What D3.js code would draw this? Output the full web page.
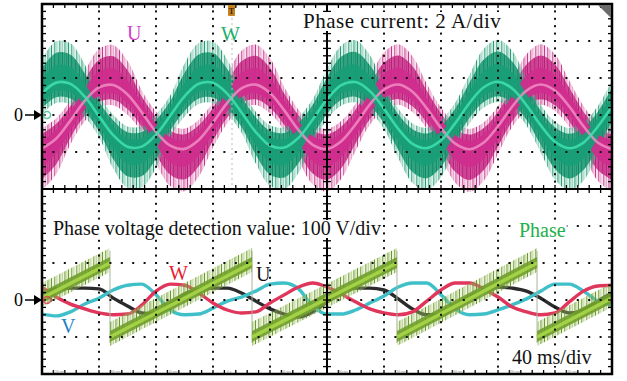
<!DOCTYPE html>
<html>
<head>
<meta charset="utf-8">
<script src="https://cdn.jsdelivr.net/npm/d3@7"></script>
<style>
  body { margin: 0; background: #fff; }
  svg { display: block; }
  text { font-family: "Liberation Serif", "Times New Roman", serif; }
</style>
</head>
<body>
<svg id="scope" width="627" height="381"></svg>
<script>
// sample times (ms) across the 10 x 40 ms screen
const timeMs = d3.range(0, 401, 10);

// phase currents (A)
const currentU = [-1.81, -1.27, -0.29, 0.76, 1.49, 1.62, 1.11, 0.14, -0.91, -1.66, -1.83, -1.35, -0.40, 0.66, 1.44, 1.64, 1.19, 0.25, -0.81, -1.61, -1.84, -1.42, -0.51, 0.56, 1.38, 1.65, 1.26, 0.36, -0.71, -1.55, -1.85, -1.49, -0.61, 0.46, 1.32, 1.65, 1.32, 0.46, -0.61, -1.49, -1.85];
const currentW = [1.17, 1.75, 1.68, 0.99, -0.06, -1.09, -1.72, -1.71, -1.07, -0.04, 1.01, 1.69, 1.74, 1.15, 0.14, -0.92, -1.65, -1.76, -1.23, -0.24, 0.84, 1.61, 1.78, 1.30, 0.34, -0.75, -1.56, -1.79, -1.37, -0.44, 0.65, 1.50, 1.80, 1.43, 0.53, -0.56, -1.45, -1.80, -1.49, -0.63, 0.46];

// phase voltage detection values (V)
const voltU = [19, 30, 32, 32, 30, 5, -16, -35, -38, -14, 16, 27, 32, 32, 19, -3, -24, -38, -46, -32, -5, 22, 32, 32, 27, 3, -24, -40, -40, -16, 8, 24, 35, 32, 24, 5, -19, -35, -27, -3, 19];
const voltV = [-38, -43, -32, -11, 5, 27, 40, 43, 14, -27, -40, -38, -22, -3, 8, 24, 43, 46, 30, -16, -38, -38, -27, -8, 11, 35, 46, 46, 14, -24, -40, -38, -27, -13, 3, 24, 43, 43, 24, -3, -13];
const voltW = [35, 8, -11, -24, -35, -40, -38, -14, 24, 43, 40, 19, -8, -27, -35, -32, -8, 14, 35, 46, 35, 16, -5, -24, -35, -40, -32, -3, 27, 46, 46, 30, 8, -19, -32, -40, -35, -5, 24, 38, 40];

// estimated electrical phase (deg), sawtooth break points
const phaseTimes = [0, 47.7, 47.7, 147.4, 147.4, 249.1, 249.1, 347.4, 347.4, 400];
const phaseDeg = [10, 180, -180, 180, -180, 180, -180, 180, -180, 10];

// tiny time readouts under the grid
const timeLabels = ["-120 ms", "-80 ms", "-40 ms", "0 s", "40 ms", "80 ms", "120 ms", "160 ms", "200 ms", "240 ms"];

const svg = d3.select("#scope");

const x = d3.scaleLinear().domain([0, 400]).range([42, 612]);
const gx = d3.scaleLinear().domain([0, 10]).range([42, 612]);
const gy = d3.scaleLinear().domain([0, 10]).range([4, 374]);
const yI = d3.scaleLinear().domain([-4, 6]).range([189, 4]);
const yV = d3.scaleLinear().domain([-200, 300]).range([374, 189]);
const yPh = d3.scaleLinear().domain([-180, 180]).range([337, 263]);

const defs = svg.append("defs");
defs.append("clipPath").attr("id", "screen")
  .append("rect").attr("x", 42).attr("y", 4).attr("width", 570).attr("height", 370);

// irregular vertical hairlines used as trace noise texture
function stripes(id, bg, bgOp, col, marks) {
  const w = 17;
  const p = defs.append("pattern").attr("id", id)
    .attr("width", w).attr("height", 8).attr("patternUnits", "userSpaceOnUse");
  p.append("rect").attr("width", w).attr("height", 8).attr("fill", bg).attr("opacity", bgOp);
  marks.forEach(([mx, mw, op]) => {
    p.append("rect").attr("x", mx).attr("width", mw).attr("height", 8).attr("fill", col).attr("opacity", op);
  });
}
const sparse = [[0, 1, 0.9], [3.1, 1.2, 0.7], [5.6, 0.6, 0.5], [8.3, 1, 0.85], [10.8, 0.7, 0.6], [13.4, 1.1, 0.8], [15.6, 0.6, 0.5]];
const dense = [[0, 1, 0.9], [1.9, 0.6, 0.5], [3.1, 1.2, 0.8], [5.6, 0.8, 0.6], [7.2, 1, 0.95], [9.5, 0.6, 0.5], [10.8, 1.3, 0.85], [13.4, 0.7, 0.6], [15.2, 1, 0.75]];
stripes("spikeW1", "#8fd5bb", 0.3, "#159269", sparse);
stripes("spikeW2", "#22a27b", 0.85, "#0f8560", dense);
stripes("spikeU1", "#eaa0cb", 0.3, "#c4257f", sparse);
stripes("spikeU2", "#d03a92", 0.85, "#b41d75", dense);
stripes("spikePh1", "#c3de8f", 0.3, "#5e8d1f", sparse);

const plot = svg.append("g").attr("clip-path", "url(#screen)");

// noisy current band: wider on the side away from zero
const base = 1.1, gain = 0.65;
function band(vals, k) {
  return d3.area()
    .x((d, i) => x(timeMs[i]))
    .y0(d => yI(d - k * (base + gain * Math.max(-d, 0))))
    .y1(d => yI(d + k * (base + gain * Math.max(d, 0))))
    .curve(d3.curveCatmullRom)(vals);
}
const centre = d3.line().x((d, i) => x(timeMs[i])).y(d => yI(d)).curve(d3.curveCatmullRom);

const currents = [
  { vals: currentU, s1: "spikeU1", s2: "spikeU2", core: "#cf2d8d", line: "#f08cc3" },
  { vals: currentW, s1: "spikeW1", s2: "spikeW2", core: "#189e77", line: "#3fe2ae" }
];
currents.forEach(c => {
  plot.append("path").attr("d", band(c.vals, 1)).attr("fill", `url(#${c.s1})`);
  plot.append("path").attr("d", band(c.vals, 0.72)).attr("fill", `url(#${c.s2})`);
});
currents.forEach(c => {
  plot.append("path").attr("d", band(c.vals, 0.42)).attr("fill", c.core).attr("opacity", 0.95);
});
currents.forEach(c => {
  plot.append("path").attr("d", centre(c.vals)).attr("fill", "none")
    .attr("stroke", c.line).attr("stroke-width", 2.6).attr("opacity", 0.85);
});

// voltages
const vLine = d3.line().x((d, i) => x(timeMs[i])).y(d => yV(d)).curve(d3.curveMonotoneX);
[[voltU, "#2b2b2b"], [voltV, "#3fc0c9"], [voltW, "#e1365b"]].forEach(([vals, col]) => {
  plot.append("path").attr("d", vLine(vals)).attr("fill", "none")
    .attr("stroke", col).attr("stroke-width", 3.4).attr("stroke-linejoin", "round");
});

// phase sawtooth, split at each wrap
const segs = [];
let cur = [];
phaseTimes.forEach((t, i) => {
  if (i > 0 && t === phaseTimes[i - 1]) {
    segs.push(cur); cur = [];
    plot.append("line").attr("x1", x(t)).attr("x2", x(t))
      .attr("y1", yPh(180) - 12).attr("y2", yPh(-180) + 6)
      .attr("stroke", "#a9b5a0").attr("stroke-width", 1);
  }
  cur.push([t, phaseDeg[i]]);
});
segs.push(cur);
function phBand(s, up, down) {
  return d3.area().x(d => x(d[0])).y0(d => yPh(d[1]) + down).y1(d => yPh(d[1]) - up)(s);
}
const phLine = d3.line().x(d => x(d[0])).y(d => yPh(d[1]));
segs.forEach(s => {
  plot.append("path").attr("d", phBand(s, 15, 9)).attr("fill", "url(#spikePh1)");
  plot.append("path").attr("d", phBand(s, 6, 5)).attr("fill", "#6f9f2a").attr("opacity", 0.9);
  plot.append("path").attr("d", phLine(s)).attr("fill", "none")
    .attr("stroke", "#a3d246").attr("stroke-width", 3.5);
});

// trigger position
svg.append("line").attr("x1", 232).attr("x2", 232).attr("y1", 18).attr("y2", 189)
  .attr("stroke", "#bbb").attr("stroke-width", 1).attr("stroke-dasharray", "2,3");

// dotted graticule
const minor = d3.range(0, 50.01, 1).map(m => m / 5);
const grid = svg.append("g").attr("fill", "#111");
d3.range(1, 10).filter(k => k !== 5).forEach(k => {
  minor.forEach(m => {
    grid.append("rect").attr("x", gx(k) - 1).attr("y", gy(m) - 1).attr("width", 2).attr("height", 2);
    grid.append("rect").attr("x", gx(m) - 1).attr("y", gy(k) - 1).attr("width", 2).attr("height", 2);
  });
});

// centre cross and frame ticks
const ax = svg.append("g").attr("stroke", "#000");
ax.append("line").attr("x1", gx(5)).attr("x2", gx(5)).attr("y1", gy(0)).attr("y2", gy(10)).attr("stroke-width", 2);
ax.append("line").attr("x1", gx(0)).attr("x2", gx(10)).attr("y1", gy(5)).attr("y2", gy(5)).attr("stroke-width", 2);
minor.forEach(m => {
  ax.append("line").attr("x1", gx(5) - 4).attr("x2", gx(5) + 4).attr("y1", gy(m)).attr("y2", gy(m)).attr("stroke-width", 1.3);
  ax.append("line").attr("y1", gy(5) - 4).attr("y2", gy(5) + 4).attr("x1", gx(m)).attr("x2", gx(m)).attr("stroke-width", 1.3);
  ax.append("line").attr("x1", gx(0)).attr("x2", gx(0) + 4).attr("y1", gy(m)).attr("y2", gy(m)).attr("stroke-width", 1.3);
  ax.append("line").attr("x1", gx(10) - 4).attr("x2", gx(10)).attr("y1", gy(m)).attr("y2", gy(m)).attr("stroke-width", 1.3);
  ax.append("line").attr("y1", gy(0)).attr("y2", gy(0) + 4).attr("x1", gx(m)).attr("x2", gx(m)).attr("stroke-width", 1.3);
  ax.append("line").attr("y1", gy(10) - 4).attr("y2", gy(10)).attr("x1", gx(m)).attr("x2", gx(m)).attr("stroke-width", 1.3);
});

// labels, pasted on white boxes like the original figure
const labels = [
  { t: "Phase current: 2 A/div", x: 303, y: 28, c: "#111", s: 21, ls: 0.5 },
  { t: "U", x: 127, y: 40, c: "#cf3fc8", s: 20, ls: 0 },
  { t: "W", x: 221, y: 41, c: "#17b06a", s: 20, ls: 0 },
  { t: "Phase voltage detection value: 100 V/div", x: 53, y: 235, c: "#111", s: 20, ls: 0 },
  { t: "Phase", x: 519, y: 237, c: "#22b04b", s: 20, ls: 0 },
  { t: "W", x: 169, y: 280, c: "#e8202e", s: 20, ls: 0 },
  { t: "U", x: 256, y: 281, c: "#111", s: 20, ls: 0 },
  { t: "V", x: 61, y: 333, c: "#1b80c4", s: 20, ls: 0 },
  { t: "40 ms/div", x: 512, y: 364, c: "#111", s: 20, ls: 0 }
];
const lab = svg.append("g");
labels.forEach(l => {
  const g = lab.append("g");
  const bg = g.append("rect").attr("fill", "#fff");
  const tx = g.append("text").attr("x", l.x).attr("y", l.y).attr("font-size", l.s)
    .attr("letter-spacing", l.ls).attr("fill", l.c).text(l.t);
  const bb = tx.node().getBBox();
  bg.attr("x", bb.x - 1).attr("y", bb.y + 3).attr("width", bb.width + 2).attr("height", bb.height - 5);
  if (l.t.length < 3) bg.attr("opacity", 0);
});

svg.append("rect").attr("x", 42).attr("y", 4).attr("width", 570).attr("height", 370)
  .attr("fill", "none").attr("stroke", "#000").attr("stroke-width", 2.5);

// corner flag and trigger marker
svg.append("path").attr("d", "M598,5 L611,5 L611,18 Z").attr("fill", "#6a6a6a");
svg.append("rect").attr("x", 228).attr("y", 5).attr("width", 7).attr("height", 11).attr("rx", 1).attr("fill", "#c8801e");
svg.append("text").attr("x", 231.5).attr("y", 14).attr("text-anchor", "middle")
  .attr("font-size", 8).attr("font-weight", "bold").attr("fill", "#3a2a10").text("T");

// time readouts
timeLabels.forEach((t, k) => {
  svg.append("text").attr("x", gx(k) + 16).attr("y", 373).attr("text-anchor", "middle")
    .attr("font-size", 4).attr("fill", "#8a8a8a").text(t);
});

// ground markers
[[yI(0), "#2fbf8f"], [yV(0), "#e1365b"]].forEach(([yy, col]) => {
  svg.append("text").attr("x", 14).attr("y", yy + 6).attr("font-size", 18).attr("fill", "#000").text("0");
  svg.append("line").attr("x1", 25).attr("x2", 36).attr("y1", yy).attr("y2", yy).attr("stroke", "#000").attr("stroke-width", 1.5);
  svg.append("path").attr("d", `M34,${yy - 5} L42,${yy} L34,${yy + 5} Z`).attr("fill", "#000");
  svg.append("circle").attr("cx", 47).attr("cy", yy).attr("r", 3.5).attr("fill", "none")
    .attr("stroke", col).attr("stroke-width", 1.5).attr("opacity", 0.8);
});
</script>
</body>
</html>
